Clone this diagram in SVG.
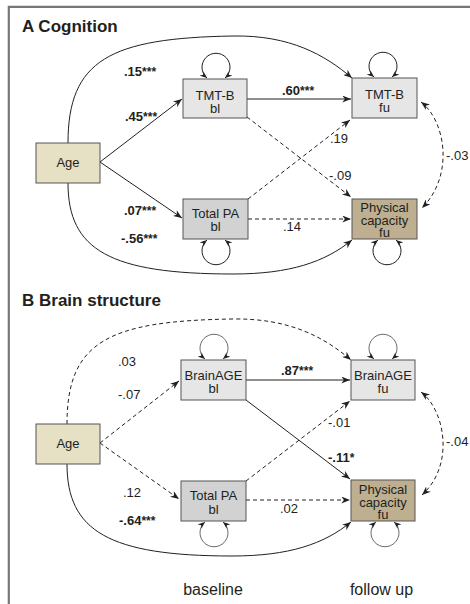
<svg xmlns="http://www.w3.org/2000/svg" width="470" height="604" viewBox="0 0 470 604">
<defs>
<style>
text{font-family:"Liberation Sans",Arial,sans-serif;fill:#231f20}
.ttl{font-size:17px;font-weight:bold}
.bt{font-size:13px;text-anchor:middle}
.lb{font-size:13px}
.b{font-weight:bold}
.st{font-size:12px}
.ax{font-size:16px;text-anchor:middle}
.box{stroke:#555;stroke-width:1}
.age{fill:#e6e0c4}
.lg{fill:#e6e6e6}
.dg{fill:#d2d2d2}
.ph{fill:#beaf91}
.c{fill:none;stroke:#231f20;stroke-width:1;marker-end:url(#ah)}
.d{stroke-dasharray:4 3}
.dbl{marker-start:url(#ah)}
.lp{fill:none;stroke:#231f20;stroke-width:1;marker-start:url(#ahs);marker-end:url(#ahs)}
.lpb{stroke:#444;stroke-width:0.8}
</style>
<marker id="ah" viewBox="0 0 10 8" refX="10" refY="4" markerWidth="9" markerHeight="7" markerUnits="userSpaceOnUse" orient="auto-start-reverse"><path d="M0,0 L10,4 L0,8 L3,4 z" fill="#231f20"/></marker>
<marker id="ahs" viewBox="0 0 10 8" refX="10" refY="4" markerWidth="7" markerHeight="6" markerUnits="userSpaceOnUse" orient="auto-start-reverse"><path d="M0,0 L10,4 L0,8 L3,4 z" fill="#231f20"/></marker>
</defs>
<rect width="470" height="604" fill="#fff"/>
<g id="frame" fill="none" stroke="#777" stroke-width="2.2">
<path d="M470 6.8 H8.8 V604"/>
</g>
<text class="ttl" x="22" y="32">A  Cognition</text>
<text class="ttl" x="22" y="306">B  Brain structure</text>

<g id="connectors">
<!-- Panel A -->
<path class="c" d="M68 143 C68 60 110 38 233 36 C290 35 325 55 352 78"/>
<path class="c" d="M68 183 C68 250 110 274 233 274 C290 274 325 262 352 240"/>
<path class="c" d="M100 162 L182 99"/>
<path class="c" d="M100 162 L182 218"/>
<path class="c" d="M247 99 L351 99"/>
<path class="c d" d="M247 117 L351 197"/>
<path class="c d" d="M248 199 L350 120"/>
<path class="c d" d="M248 219 L351 219"/>
<path class="c d dbl" d="M421 102 C445 120 455 175 422 208"/>
<path class="lp" d="M207 78 A14 14 0 1 1 225 78"/>
<path class="lp" d="M374 77 A14 14 0 1 1 392 77"/>
<path class="lp" d="M207 240 A14 14 0 1 0 225 240"/>
<path class="lp" d="M378 240 A14 14 0 1 0 396 240"/>
<!-- Panel B -->
<path class="c d" d="M67 424 C67 341 109 321 232 319 C289 318 324 337 351 360"/>
<path class="c" d="M67 464 C67 531 109 556 232 556 C289 556 324 544 351 522"/>
<path class="c d" d="M100 443 L179 381"/>
<path class="c d" d="M100 443 L179 499"/>
<path class="c" d="M246 380 L350 380"/>
<path class="c" d="M246 400 L350 479"/>
<path class="c d" d="M246 481 L350 401"/>
<path class="c d" d="M246 500 L350 500"/>
<path class="c d dbl" d="M421 392 C445 410 455 465 422 495"/>
<path class="lp lpb" d="M205 359 A14 14 0 1 1 223 359"/>
<path class="lp lpb" d="M374 359 A14 14 0 1 1 392 359"/>
<path class="lp lpb" d="M205 522 A14 14 0 1 0 223 522"/>
<path class="lp lpb" d="M376 522 A14 14 0 1 0 394 522"/>
</g>

<g id="labels">
<text class="lb b" x="124" y="76">.15<tspan class="st">***</tspan></text>
<text class="lb b" x="125" y="121">.45<tspan class="st">***</tspan></text>
<text class="lb b" x="124" y="215">.07<tspan class="st">***</tspan></text>
<text class="lb b" x="121" y="243">-.56<tspan class="st">***</tspan></text>
<text class="lb b" x="282" y="95">.60<tspan class="st">***</tspan></text>
<text class="lb" x="330" y="143">.19</text>
<text class="lb" x="329" y="180">-.09</text>
<text class="lb" x="283" y="231">.14</text>
<text class="lb" x="446" y="160">-.03</text>
<text class="lb" x="118" y="366">.03</text>
<text class="lb" x="118" y="399">-.07</text>
<text class="lb" x="123" y="497">.12</text>
<text class="lb b" x="119" y="525">-.64<tspan class="st">***</tspan></text>
<text class="lb b" x="281" y="375">.87<tspan class="st">***</tspan></text>
<text class="lb" x="328" y="427">-.01</text>
<text class="lb b" x="328" y="462">-.11<tspan class="st">*</tspan></text>
<text class="lb" x="280" y="513">.02</text>
<text class="lb" x="446" y="446">-.04</text>
</g>

<g id="ageA"><rect class="box age" x="36" y="143" width="64" height="40"/><text class="bt" x="68" y="167">Age</text></g>
<g id="tmtbBl"><rect class="box lg" x="183" y="79" width="64" height="39"/><text class="bt" x="215" y="100">TMT-B</text><text class="bt" x="215" y="113">bl</text></g>
<g id="tmtbFu"><rect class="box lg" x="352" y="78" width="65" height="40"/><text class="bt" x="384.5" y="99">TMT-B</text><text class="bt" x="384.5" y="112">fu</text></g>
<g id="paBlA"><rect class="box dg" x="183" y="199" width="65" height="40"/><text class="bt" x="215.5" y="218">Total PA</text><text class="bt" x="215.5" y="231">bl</text></g>
<g id="physA"><rect class="box ph" x="352" y="199" width="65" height="40"/><text class="bt" x="384.5" y="212">Physical</text><text class="bt" x="384.5" y="225">capacity</text><text class="bt" x="384.5" y="237">fu</text></g>

<g id="ageB"><rect class="box age" x="36" y="424" width="64" height="40"/><text class="bt" x="68" y="448">Age</text></g>
<g id="brainBl"><rect class="box lg" x="181" y="360" width="65" height="40"/><text class="bt" x="213.5" y="380">BrainAGE</text><text class="bt" x="213.5" y="393">bl</text></g>
<g id="brainFu"><rect class="box lg" x="351" y="360" width="64" height="40"/><text class="bt" x="383" y="380">BrainAGE</text><text class="bt" x="383" y="393">fu</text></g>
<g id="paBlB"><rect class="box dg" x="181" y="481" width="65" height="40"/><text class="bt" x="213.5" y="500">Total PA</text><text class="bt" x="213.5" y="514">bl</text></g>
<g id="physB"><rect class="box ph" x="351" y="480" width="64" height="41"/><text class="bt" x="383" y="494">Physical</text><text class="bt" x="383" y="507">capacity</text><text class="bt" x="383" y="519">fu</text></g>

<text class="ax" x="213" y="595">baseline</text>
<text class="ax" x="381.5" y="595">follow up</text>
</svg>
